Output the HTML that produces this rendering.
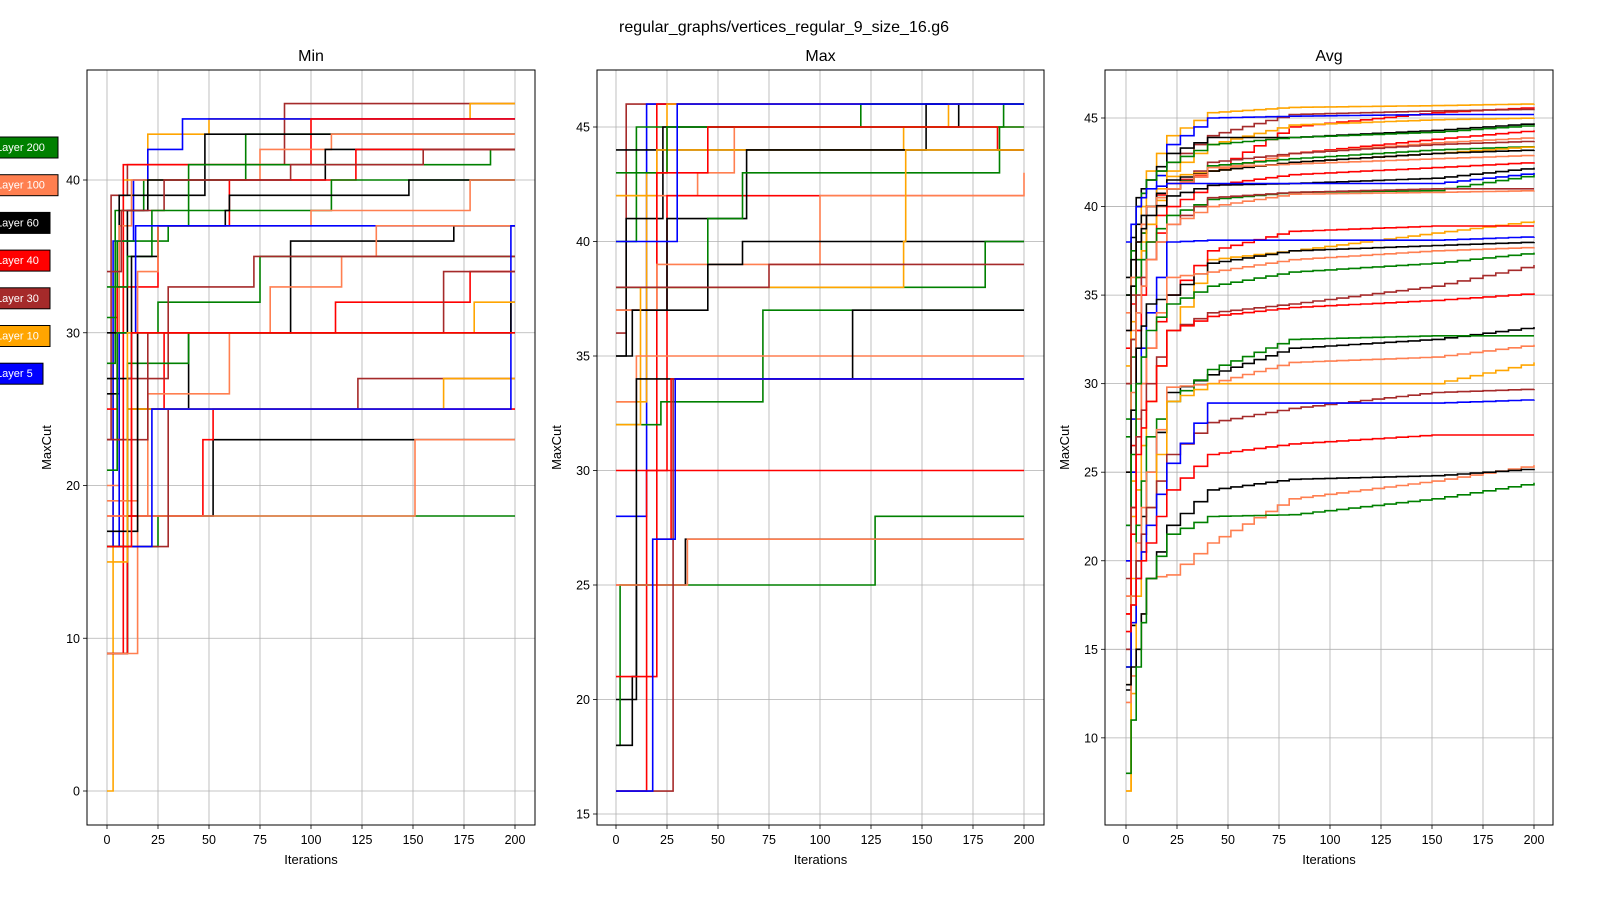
<!DOCTYPE html>
<html><head><meta charset="utf-8"><style>
html,body{margin:0;padding:0;background:#fff;overflow:hidden;width:1600px;height:900px;}
svg{display:block;font-family:"Liberation Sans","DejaVu Sans",sans-serif;}
</style></head><body>
<svg id="fig" width="1600" height="900" viewBox="0 0 1600 900">
<rect width="1600" height="900" fill="#fff"/>
<text x="784" y="32" font-size="16" text-anchor="middle">regular_graphs/vertices_regular_9_size_16.g6</text>
</svg>
<script>
const colorMap={g:'#008000',c:'#ff7f50',k:'#000000',r:'#ff0000',b:'#a52a2a',o:'#ffa500',u:'#0000ff'};
const xTicks=[0,25,50,75,100,125,150,175,200];
const minTicks=[0,10,20,30,40];
const maxTicks=[15,20,25,30,35,40,45];
const avgTicks=[10,15,20,25,30,35,40,45];
const legendLabels=['Layer 200','Layer 100','Layer 60','Layer 40','Layer 30','Layer 10','Layer 5'];
const legendColors=['g','c','k','r','b','o','u'];
const minSeries=[
['b',[0,23,2,39,10,41,87,45]],
['o',[0,0,3,30,8,40,20,43,50,44,178,45]],
['u',[0,16,3,36,13,40,20,42,37,44]],
['r',[0,9,8,41,100,44]],
['g',[0,28,4,38,18,40,68,43]],
['k',[0,26,6,39,48,43]],
['c',[0,20,6,37,12,40,75,42,110,43]],
['k',[0,30,10,38,20,40,107,42]],
['g',[0,31,5,36,30,37,40,41,188,42]],
['r',[0,25,5,33,25,37,60,40,122,42]],
['b',[0,34,7,38,28,40,90,41,155,42]],
['g',[0,33,10,35,22,38,110,40]],
['k',[0,27,12,35,25,37,58,38,60,39,148,40]],
['c',[0,19,15,34,25,37,100,38,178,40]],
['u',[0,16,6,30,14,37]],
['g',[0,21,5,30,25,32,75,35]],
['r',[0,18,12,25,28,30,112,32,178,34]],
['k',[0,16,10,25,40,30,90,36,170,37]],
['c',[0,18,20,26,60,30,80,33,115,35,132,37]],
['b',[0,23,10,27,30,33,72,35]],
['g',[0,9,10,16,25,18]],
['k',[0,9,10,18,52,23]],
['r',[0,9,10,18,47,23,52,25]],
['c',[0,9,15,18,150,18,151,23]],
['b',[0,16,30,25,123,27]],
['o',[0,16,10,25,164,25,165,27]],
['u',[0,16,22,25,198,37]],
['g',[0,16,10,28,40,30]],
['b',[0,23,20,30,165,34]],
['k',[0,17,15,30,198,32]],
['o',[0,15,10,30,180,32]],
['r',[0,16,12,30,200,30]]
];
const maxSeries=[
['b',[0,36,5,46]],
['u',[0,28,15,46]],
['r',[0,25,20,46]],
['o',[0,33,15,43,25,46]],
['g',[0,40,10,45,120,46]],
['k',[0,44,22,44,152,46]],
['k',[0,35,5,41,23,45,168,46]],
['c',[0,42,40,43,58,45]],
['o',[0,42,20,44,140,44,141,45,163,46]],
['g',[0,43,25,45,190,46]],
['r',[0,37,20,43,45,45,187,44]],
['r',[0,30,25,42,100,42]],
['k',[0,37,25,41,64,44]],
['g',[0,38,45,41,62,43,188,45]],
['c',[0,37,20,39,100,42,200,43]],
['k',[0,35,8,37,45,39,62,40]],
['g',[0,38,180,38,181,40]],
['g',[0,32,22,33,72,37]],
['o',[0,32,12,38,141,40,142,44]],
['b',[0,38,75,39]],
['c',[0,33,10,35]],
['k',[0,20,10,34,115,34,116,37]],
['r',[0,16,15,30]],
['g',[0,18,2,25,126,25,127,28]],
['k',[0,18,8,21,10,25,33,25,34,27]],
['c',[0,25,35,27]],
['r',[0,21,20,27,27,34]],
['b',[0,16,28,34]],
['u',[0,16,18,27,29,34]],
['u',[0,40,30,46,170,46]]
];
const avgX=[0,5,10,20,40,80,150,200];
const avgSeries=[
['o',[7,38,42,44,45.3,45.6,45.7,45.8]],
['r',[17,33,38,41,42,44.5,45.3,45.6]],
['b',[30,40,41.5,42.5,44,45.2,45.4,45.5]],
['u',[22,34,40,43.5,45,45.1,45.2,45.2]],
['o',[13,36,40,42,43.5,44.6,44.9,45.0]],
['k',[36,40.5,41.5,43,43.9,43.9,44.3,44.7]],
['g',[35,40,41.5,42.5,43.5,43.9,44.2,44.6]],
['r',[32,37,40,41.3,42,43,43.8,44.3]],
['c',[30,36,39,41,42,43,43.6,43.9]],
['b',[33,38,40,41,42.5,43,43.5,43.7]],
['g',[28,37,40,41,42.3,42.7,43.2,43.4]],
['o',[31,36,39,41.7,42,42.5,43,43.4]],
['k',[35,39,40,41.5,42,42.5,43,43.2]],
['c',[34,38,40,41,42.2,42.4,42.7,42.9]],
['r',[20,33,37,40,41.2,41.8,42.2,42.5]],
['k',[33,38,39.5,40.6,41.2,41.3,41.6,42.2]],
['u',[38,40,41,41.3,41.3,41.3,41.3,41.9]],
['g',[27,36,38,39.5,40.4,40.8,40.9,41.8]],
['b',[30,35,37,39,40.5,40.8,41,41.0]],
['c',[25,34,37,39,40,40.7,40.8,40.9]],
['o',[14,24,29,33,37,37.5,38.5,39.2]],
['r',[18,28,32,35,37.5,38.6,38.9,38.9]],
['u',[20,30,34,38,38.1,38.1,38.1,38.3]],
['k',[25,32,34.5,35,36.8,37.5,37.8,38.0]],
['c',[18,28,32,36,36.3,37,37.5,37.7]],
['g',[22,30,33,34.5,35.5,36.3,36.8,37.4]],
['b',[19,27,30,33,34,34.5,35.5,36.7]],
['r',[17,26,29,33,33.8,34.3,34.7,35.1]],
['k',[12.7,20,25,29.5,30.5,32,32.5,33.2]],
['g',[14,22,27,29,30.8,32.5,32.7,32.7]],
['c',[15,21,25,29.8,30,31.2,31.5,32.2]],
['o',[7,18,23,29,30,30,30,31.2]],
['b',[15,20,23,26,27.8,28.6,29.5,29.7]],
['u',[14,19,22,25.5,28.9,28.9,28.9,29.1]],
['r',[16,19,21,24,26,26.6,27.1,27.1]],
['c',[12,15,19,19.2,21,23.5,24.5,25.4]],
['k',[13,15,19,22,24,24.6,24.8,25.2]],
['g',[8,14,19,21.5,22.5,22.6,23.5,24.4]]
];
const NS='http://www.w3.org/2000/svg';
const fig=document.getElementById('fig');
function mk(tag,attrs,parent){const e=document.createElementNS(NS,tag);for(const k in attrs)e.setAttribute(k,attrs[k]);(parent||fig).appendChild(e);return e;}

function panel(name,title,L,R,T,B,x0px,y0val,y0px,yPerUnit,yTicks,series,isAvg){
  const g=mk('g',{});
  
  
  const xs=v=>x0px+v*2.04;
  const ys=v=>y0px-(v-y0val)*yPerUnit;
  xTicks.forEach(t=>{
    const l=mk('line',{x1:xs(t),x2:xs(t),y1:T,y2:B,stroke:'#b0b0b0','stroke-width':0.8},g);
    
    
    mk('line',{x1:xs(t),x2:xs(t),y1:B,y2:B+4,stroke:'#000','stroke-width':0.8},g);
    const tx=mk('text',{x:xs(t),y:B+19,'font-size':12.5,'text-anchor':'middle'},g);
    tx.textContent=t;
    
    
  });
  yTicks.forEach(t=>{
    const l=mk('line',{x1:L,x2:R,y1:ys(t),y2:ys(t),stroke:'#b0b0b0','stroke-width':0.8},g);
    
    
    mk('line',{x1:L-4,x2:L,y1:ys(t),y2:ys(t),stroke:'#000','stroke-width':0.8},g);
    const tx=mk('text',{x:L-7,y:ys(t)+4.5,'font-size':12.5,'text-anchor':'end'},g);
    tx.textContent=t;
    
    
  });
  const clipId='clip-'+name;
  const cp=mk('clipPath',{id:clipId},g);mk('rect',{x:L,y:T,width:R-L,height:B-T},cp);
  const lines=mk('g',{'clip-path':'url(#'+clipId+')'},g);
  series.forEach((s,i)=>{
    let pts=[];
    if(isAvg){pts=avgX.map((x,j)=>[x,s[1][j]]);}
    else{for(let j=0;j<s[1].length;j+=2)pts.push([s[1][j],s[1][j+1]]);}
    if(pts[pts.length-1][0]<200)pts.push([200,pts[pts.length-1][1]]);
    let d='M'+xs(pts[0][0]).toFixed(1)+','+ys(pts[0][1]).toFixed(1);
    for(let j=1;j<pts.length;j++){
      if(isAvg){
        const [xa,ya]=pts[j-1],[xb,yb]=pts[j];
        const n=Math.max(2,Math.round((xb-xa)/6));
        for(let q=1;q<=n;q++){const xq=xa+(xb-xa)*q/n;const yq=ya+(yb-ya)*q/n;
          d+=' H'+xs(xq).toFixed(1)+' V'+ys(yq).toFixed(1);}
      }else{
        d+=' H'+xs(pts[j][0]).toFixed(1)+' V'+ys(pts[j][1]).toFixed(1);
      }
    }
    const p=mk('path',{d:d,fill:'none',stroke:colorMap[s[0]],'stroke-width':1.6},lines);
    
    
  });
  const fr=mk('rect',{x:L,y:T,width:R-L,height:B-T,fill:'none',stroke:'#000','stroke-width':1},g);
  
  
  const tt=mk('text',{x:(L+R)/2,y:T-9,'font-size':16,'text-anchor':'middle'},g);
  tt.textContent=title;
  
  
  const xl=mk('text',{x:(L+R)/2,y:B+39,'font-size':13,'text-anchor':'middle'},g);
  xl.textContent='Iterations';
  
  
  const yx=L-36,yy=(T+B)/2;
  const yl=mk('text',{x:yx,y:yy,'font-size':13,'text-anchor':'middle',transform:'rotate(-90 '+yx+' '+yy+')'},g);
  yl.textContent='MaxCut';
  
  
}
panel('min','Min',87,535,70,825,107,0,791,15.275,minTicks,minSeries,false);
panel('max','Max',597,1044,70,825,616,45,127,22.9,maxTicks,maxSeries,false);
panel('avg','Avg',1105,1553,70,825,1126,45,118,17.71,avgTicks,avgSeries,true);

const widths=[58,58,50,50,50,50,43];
legendLabels.forEach((lab,i)=>{
  const cy=147+i*37.7;
  const g=mk('g',{});
  
  
  mk('rect',{x:-2,y:cy-10,width:widths[i]+2,height:21,fill:colorMap[legendColors[i]],stroke:'#000','stroke-width':1},g);
  const t=mk('text',{x:-4,y:cy+4,'font-size':11,fill:'#fff'},g);
  t.textContent=lab;
});
</script>
</body></html>
